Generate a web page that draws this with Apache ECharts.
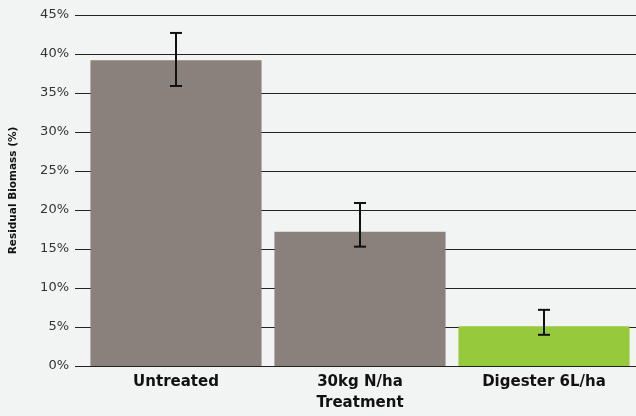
<!DOCTYPE html>
<html>
<head>
<meta charset="utf-8">
<script src="https://cdn.jsdelivr.net/npm/echarts@6/dist/echarts.min.js"></script>
<style>
  html, body { margin: 0; padding: 0; background: #f2f4f3; }
  #chart-container { width: 636px; height: 416px; }
</style>
</head>
<body>
<div id="chart-container"></div>
<script>
const categories = ["Untreated", "30kg N/ha", "Digester 6L/ha"];
const means = [39.2, 17.2, 5.1];
const errLow = [35.9, 15.3, 4.0];
const errHigh = [42.7, 20.9, 7.2];
const barColors = ["#8a817c", "#8a817c", "#97c93d"];
const yTicks = [0, 5, 10, 15, 20, 25, 30, 35, 40, 45];

const dom = document.getElementById("chart-container");
const myChart = echarts.init(dom, null, { renderer: "canvas" });

const fontFamily = "'DejaVu Sans', sans-serif";

const option = {
  backgroundColor: "#f2f4f3",
  animation: false,
  grid: { left: 84, right: 0, top: 15, bottom: 49 },
  xAxis: {
    type: "category",
    data: categories,
    name: "Treatment",
    nameLocation: "middle",
    nameGap: 30,
    nameTextStyle: { fontFamily, fontSize: 15, fontWeight: "bold", color: "#111" },
    axisLine: { show: false },
    axisTick: { show: false },
    axisLabel: { fontFamily, fontSize: 15, fontWeight: "bold", color: "#111", margin: 9 },
  },
  yAxis: {
    type: "value",
    min: yTicks[0],
    max: yTicks[yTicks.length - 1],
    interval: 5,
    name: "Residual Biomass (%)",
    nameLocation: "middle",
    nameGap: 65,
    nameTextStyle: { fontFamily, fontSize: 10.5, fontWeight: "bold", color: "#111" },
    axisLine: { show: false },
    axisTick: { show: true, length: 9, lineStyle: { color: "#222", width: 1 } },
    axisLabel: {
      fontFamily,
      fontSize: 13,
      color: "#333",
      margin: 15,
      formatter: (v) => v + "%",
    },
    splitLine: { lineStyle: { color: "#222", width: 1 } },
  },
  series: [
    {
      type: "bar",
      barCategoryGap: "7%",
      data: means.map((v, i) => ({ value: v, itemStyle: { color: barColors[i] } })),
      z: 2,
    },
    {
      type: "custom",
      z: 3,
      data: categories.map((c, i) => [i, errLow[i], errHigh[i]]),
      renderItem: function (params, api) {
        const lo = api.coord([api.value(0), api.value(1)]);
        const hi = api.coord([api.value(0), api.value(2)]);
        const half = 6;
        const style = { stroke: "#111", lineWidth: 2 };
        return {
          type: "group",
          children: [
            { type: "line", shape: { x1: hi[0], y1: hi[1], x2: lo[0], y2: lo[1] }, style },
            { type: "line", shape: { x1: hi[0] - half, y1: hi[1], x2: hi[0] + half, y2: hi[1] }, style },
            { type: "line", shape: { x1: lo[0] - half, y1: lo[1], x2: lo[0] + half, y2: lo[1] }, style },
          ],
        };
      },
    },
  ],
};

myChart.setOption(option);
window.addEventListener("resize", myChart.resize);
</script>
</body>
</html>
